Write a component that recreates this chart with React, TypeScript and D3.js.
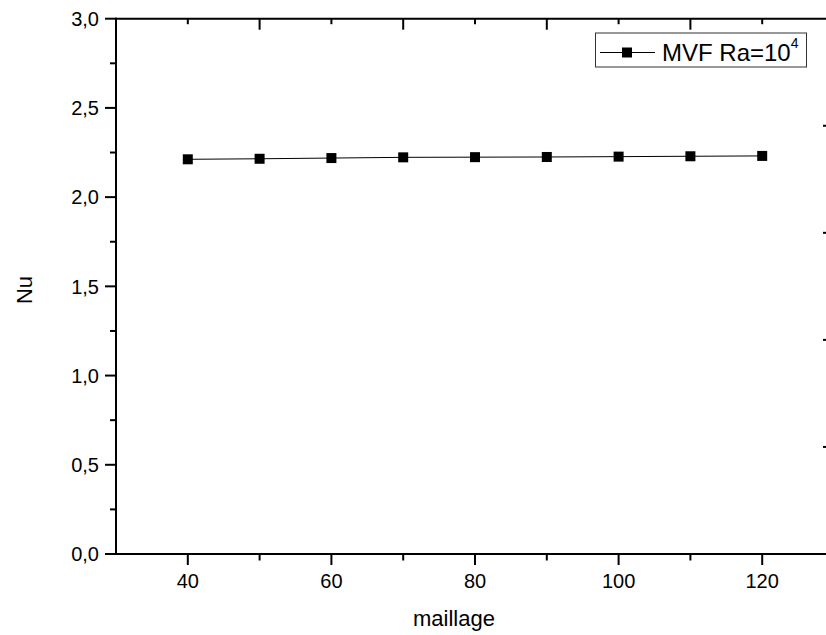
import React from "react";
import * as d3 from "d3";

const maillage = [40, 50, 60, 70, 80, 90, 100, 110, 120];
const nu = [2.212, 2.215, 2.219, 2.223, 2.224, 2.225, 2.227, 2.229, 2.231];
const yTicks = [0, 0.5, 1.0, 1.5, 2.0, 2.5, 3.0];
const yMinor = [0.25, 0.75, 1.25, 1.75, 2.25, 2.75];
const xTicks = [40, 60, 80, 100, 120];
const xMinor = [50, 70, 90, 110, 130];
const rightTicks = [0.6, 1.2, 1.8, 2.4];
const seriesLabel = "MVF Ra=10";
const seriesSup = "4";

const W = 826;
const H = 635;
const FONT = "'Liberation Sans', Arial, sans-serif";

export default function App() {
  const x = d3.scaleLinear().domain([30, 130]).range([116, 834]);
  const y = d3.scaleLinear().domain([0, 3]).range([554, 18.7]);
  const line = d3
    .line<number>()
    .x((_, i) => x(maillage[i]))
    .y((d) => y(d));
  const fmt = (v: number) => v.toFixed(1).replace(".", ",");
  const left = x(30);
  const bottom = y(0);
  const top = y(3);
  const right = x(130);
  const ms = 10;

  return (
    <svg
      width={W}
      height={H}
      style={{ position: "absolute", left: 0, top: 0, background: "#fff" }}
      fontFamily={FONT}
    >
      <rect x={0} y={0} width={W} height={H} fill="#fff" />
      {/* data line */}
      <path d={line(nu) || ""} fill="none" stroke="#000" strokeWidth={1} />
      {nu.map((v, i) => (
        <rect
          key={i}
          x={x(maillage[i]) - ms / 2}
          y={y(v) - ms / 2}
          width={ms}
          height={ms}
          fill="#000"
        />
      ))}
      {/* axes lines */}
      <line x1={left} x2={left} y1={top - 1} y2={bottom + 1} stroke="#000" strokeWidth={2} />
      <line x1={left - 1} x2={right} y1={bottom} y2={bottom} stroke="#000" strokeWidth={2} />
      <line x1={left - 1} x2={right} y1={top} y2={top} stroke="#000" strokeWidth={2} />
      {/* left ticks */}
      {yTicks.map((t) => (
        <g key={"yt" + t}>
          <line x1={left - 11} x2={left} y1={y(t)} y2={y(t)} stroke="#000" strokeWidth={2} />
          <text
            x={left - 17}
            y={y(t)}
            dy="0.36em"
            textAnchor="end"
            fontSize={20}
            fill="#000"
          >
            {fmt(t)}
          </text>
        </g>
      ))}
      {yMinor.map((t) => (
        <line key={"ym" + t} x1={left - 6} x2={left} y1={y(t)} y2={y(t)} stroke="#000" strokeWidth={2} />
      ))}
      {/* bottom ticks */}
      {xTicks.map((t) => (
        <g key={"xt" + t}>
          <line x1={x(t)} x2={x(t)} y1={bottom} y2={bottom + 11} stroke="#000" strokeWidth={2} />
          <text x={x(t)} y={588} textAnchor="middle" fontSize={20} fill="#000">
            {t}
          </text>
        </g>
      ))}
      {xMinor.map((t) => (
        <line key={"xm" + t} x1={x(t)} x2={x(t)} y1={bottom} y2={bottom + 6.5} stroke="#000" strokeWidth={2} />
      ))}
      {/* top ticks (inward) */}
      {xMinor.map((t) => (
        <line key={"tt" + t} x1={x(t)} x2={x(t)} y1={top} y2={top + 11} stroke="#000" strokeWidth={2} />
      ))}
      {xTicks.map((t) => (
        <line key={"tm" + t} x1={x(t)} x2={x(t)} y1={top} y2={top + 5.5} stroke="#000" strokeWidth={2} />
      ))}
      {/* right ticks */}
      {rightTicks.map((t) => (
        <line key={"rt" + t} x1={right - 11} x2={right} y1={y(t)} y2={y(t)} stroke="#000" strokeWidth={2} />
      ))}
      {/* axis titles */}
      <text x={454} y={626} textAnchor="middle" fontSize={22} fill="#000">
        maillage
      </text>
      <text
        transform={`translate(31.5, ${290}) rotate(-90)`}
        textAnchor="middle"
        fontSize={22}
        fill="#000"
      >
        Nu
      </text>
      {/* legend */}
      <rect x={595.5} y={33} width={211} height={34} fill="#fff" stroke="#333" strokeWidth={1} />
      <line x1={600} x2={655} y1={52.5} y2={52.5} stroke="#000" strokeWidth={1} />
      <rect x={622} y={47.5} width={ms} height={ms} fill="#000" />
      <text x={662} y={61} fontSize={24} fill="#000">
        {seriesLabel}
        <tspan fontSize={14} dy={-13}>
          {seriesSup}
        </tspan>
      </text>
    </svg>
  );
}
